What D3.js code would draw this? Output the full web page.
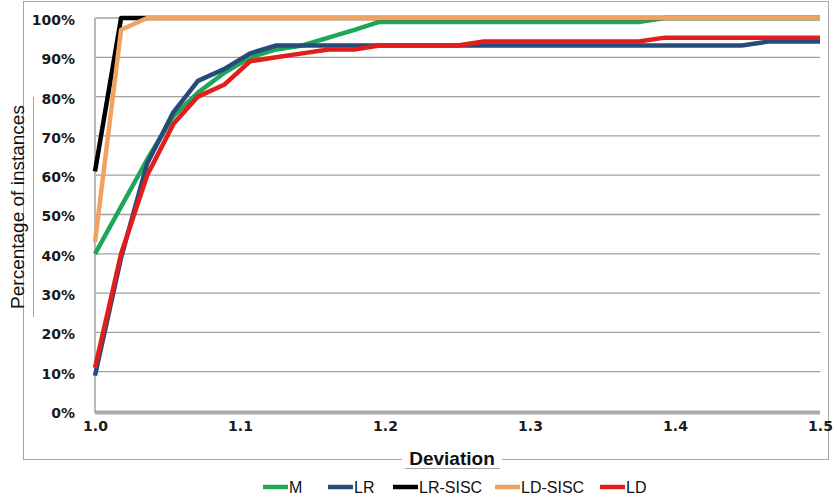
<!DOCTYPE html>
<html>
<head>
<meta charset="utf-8">
<script src="https://cdn.jsdelivr.net/npm/d3@7"></script>
<style>
  body { margin: 0; background: #fff; }
  svg { display: block; }
</style>
</head>
<body>
<div id="chart"></div>
<script>
// deviation thresholds (x) shared by all series
const deviation = [1.000, 1.018, 1.036, 1.054, 1.071, 1.089, 1.107, 1.125, 1.143, 1.161,
  1.179, 1.196, 1.214, 1.232, 1.250, 1.268, 1.286, 1.304, 1.321, 1.339,
  1.357, 1.375, 1.393, 1.411, 1.429, 1.446, 1.464, 1.482, 1.500];

const seriesNames = ["M", "LR", "LR-SISC", "LD-SISC", "LD"];
const seriesColors = ["#1fa659", "#264b7a", "#000000", "#f0a361", "#e31c1c"];

const valuesM = [40, 52, 64, 75, 81, 86, 90, 92, 93, 95, 97, 99, 99, 99, 99, 99, 99, 99, 99, 99, 99, 99, 100, 100, 100, 100, 100, 100, 100];
const valuesLR = [9, 39, 63, 76, 84, 87, 91, 93, 93, 93, 93, 93, 93, 93, 93, 93, 93, 93, 93, 93, 93, 93, 93, 93, 93, 93, 94, 94, 94];
const valuesLRSISC = [61, 100, 100, 100, 100, 100, 100, 100, 100, 100, 100, 100, 100, 100, 100, 100, 100, 100, 100, 100, 100, 100, 100, 100, 100, 100, 100, 100, 100];
const valuesLDSISC = [43, 97, 100, 100, 100, 100, 100, 100, 100, 100, 100, 100, 100, 100, 100, 100, 100, 100, 100, 100, 100, 100, 100, 100, 100, 100, 100, 100, 100];
const valuesLD = [11, 40, 60, 73, 80, 83, 89, 90, 91, 92, 92, 93, 93, 93, 93, 94, 94, 94, 94, 94, 94, 94, 95, 95, 95, 95, 95, 95, 95];

const yTicks = [0, 10, 20, 30, 40, 50, 60, 70, 80, 90, 100];
const xTicks = [1.0, 1.1, 1.2, 1.3, 1.4, 1.5];

const allValues = [valuesM, valuesLR, valuesLRSISC, valuesLDSISC, valuesLD];

const width = 837, height = 497;
const svg = d3.select("#chart").append("svg")
  .attr("width", width)
  .attr("height", height);

const x = d3.scaleLinear().domain([1.0, 1.5]).range([95, 820]);
const y = d3.scaleLinear().domain([0, 100]).range([411, 18]);

// outer frame
svg.append("rect")
  .attr("x", 23.5).attr("y", 1.5)
  .attr("width", 805).attr("height", 458)
  .attr("fill", "none")
  .attr("stroke", "#a6a6a6")
  .attr("stroke-width", 1);

// gridlines
svg.append("g")
  .selectAll("line")
  .data(yTicks.filter(d => d > 0))
  .join("line")
  .attr("x1", x(1.0)).attr("x2", x(1.5))
  .attr("y1", d => y(d)).attr("y2", d => y(d))
  .attr("stroke", "#a0a0a0")
  .attr("stroke-width", 1.3);

// left axis line
svg.append("line")
  .attr("x1", x(1.0)).attr("x2", x(1.0))
  .attr("y1", y(100)).attr("y2", y(0) + 2)
  .attr("stroke", "#b8b8b8")
  .attr("stroke-width", 2);

// y axis labels
const yAxis = d3.axisLeft(y).tickValues(yTicks).tickFormat(d => d + "%").tickSize(0).tickPadding(20);
const gy = svg.append("g").attr("transform", `translate(${x(1.0)},2)`).call(yAxis);
gy.select(".domain").remove();
gy.selectAll("text")
  .attr("font-family", "DejaVu Sans")
  .attr("font-weight", "bold")
  .attr("font-size", 14)
  .attr("fill", "#1a1a1a");

// x axis labels
const xAxis = d3.axisBottom(x).tickValues(xTicks).tickFormat(d3.format(".1f")).tickSize(0).tickPadding(10);
const gx = svg.append("g").attr("transform", `translate(0,${y(0)})`).call(xAxis);
gx.select(".domain").remove();
gx.selectAll("text")
  .attr("font-family", "DejaVu Sans")
  .attr("font-weight", "bold")
  .attr("font-size", 14)
  .attr("fill", "#1a1a1a");

// bottom axis line (thick gray)
svg.append("line")
  .attr("x1", x(1.0)).attr("x2", x(1.5))
  .attr("y1", y(0) + 1.5).attr("y2", y(0) + 1.5)
  .attr("stroke", "#ababab")
  .attr("stroke-width", 4);

// series lines
const line = d3.line()
  .x((d, i) => x(deviation[i]))
  .y(d => y(d));

svg.append("g")
  .selectAll("path")
  .data(allValues)
  .join("path")
  .attr("d", d => line(d))
  .attr("fill", "none")
  .attr("stroke", (d, i) => seriesColors[i])
  .attr("stroke-width", 4.5)
  .attr("stroke-linejoin", "round");

// y axis title
svg.append("text")
  .attr("transform", "translate(24,207) rotate(-90)")
  .attr("text-anchor", "middle")
  .attr("font-family", "Liberation Sans")
  .attr("font-size", 19)
  .attr("fill", "#111")
  .text("Percentage of instances");
svg.append("line")
  .attr("x1", 33.5).attr("x2", 33.5)
  .attr("y1", 97).attr("y2", 317)
  .attr("stroke", "#a6a6a6");

// x axis title
svg.append("rect")
  .attr("x", 402).attr("y", 448)
  .attr("width", 100).attr("height", 22)
  .attr("fill", "#fff");
svg.append("text")
  .attr("x", 452).attr("y", 465)
  .attr("text-anchor", "middle")
  .attr("font-family", "Liberation Sans")
  .attr("font-weight", "bold")
  .attr("font-size", 19)
  .attr("fill", "#111")
  .text("Deviation");
svg.append("line")
  .attr("x1", 405).attr("x2", 500)
  .attr("y1", 468.5).attr("y2", 468.5)
  .attr("stroke", "#a6a6a6");

// legend
const legendX = [263, 328, 393, 495, 600];
const legend = svg.append("g")
  .selectAll("g")
  .data(seriesNames)
  .join("g")
  .attr("transform", (d, i) => `translate(${legendX[i]},487)`);
legend.append("line")
  .attr("x1", 0).attr("x2", 25)
  .attr("y1", 0).attr("y2", 0)
  .attr("stroke", (d, i) => seriesColors[i])
  .attr("stroke-width", 4.5);
legend.append("text")
  .attr("x", 26).attr("y", 5.5)
  .attr("font-family", "Liberation Sans")
  .attr("font-size", 16)
  .attr("fill", "#111")
  .text(d => d);
</script>
</body>
</html>
